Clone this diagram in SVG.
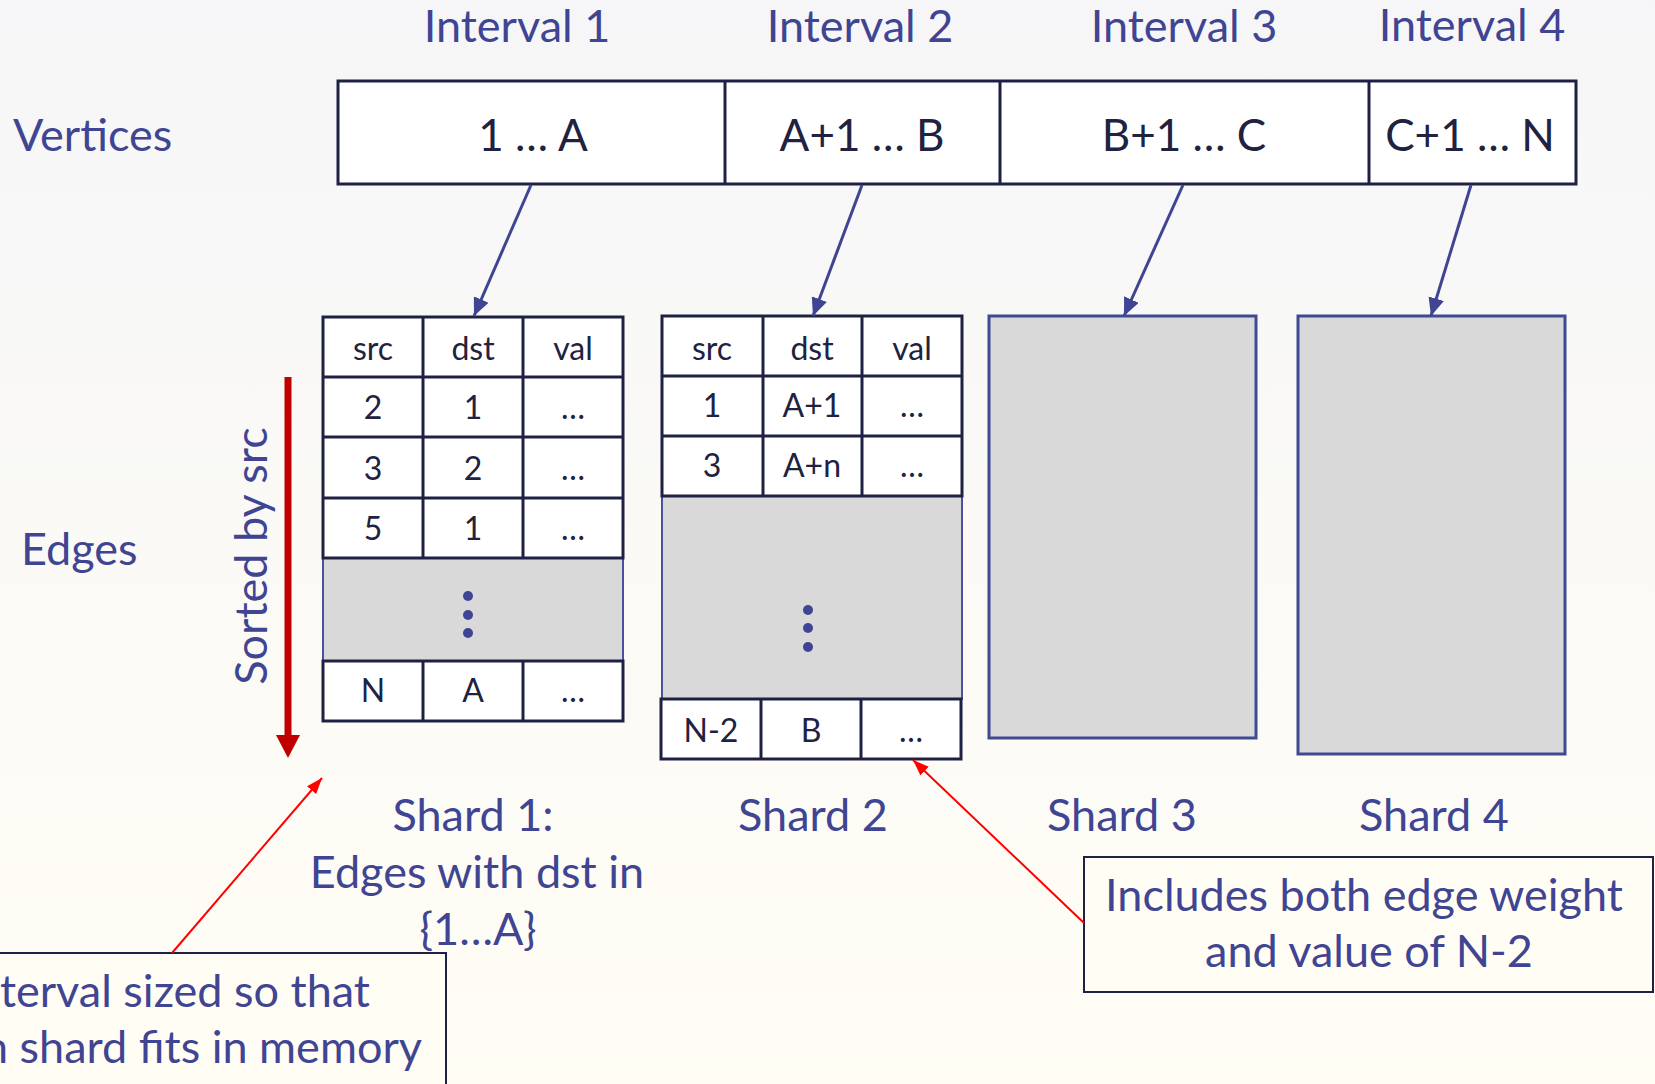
<svg xmlns="http://www.w3.org/2000/svg" width="1655" height="1084" viewBox="0 0 1655 1084">
  <defs>
    <linearGradient id="bg" x1="0" y1="0" x2="0" y2="1">
      <stop offset="0" stop-color="#F6F6F8"/>
      <stop offset="1" stop-color="#FFFDF4"/>
    </linearGradient>
    <marker id="blueHead" markerUnits="userSpaceOnUse" markerWidth="20" markerHeight="18" refX="18" refY="8" orient="auto">
      <path d="M0,0 L18,8 L0,16 Z" fill="#3F4592"/>
    </marker>
    <marker id="redHead" markerUnits="userSpaceOnUse" markerWidth="18" markerHeight="14" refX="16" refY="6" orient="auto">
      <path d="M0,0 L16,6 L0,12 Z" fill="#FF0000"/>
    </marker>
    <style>
      .lbl { font-family: Lato, "Liberation Sans", sans-serif; font-size: 45px; fill: #3F4592; }
      .mid { text-anchor: middle; }
      .vtx { font-family: Lato, "Liberation Sans", sans-serif; font-size: 44px; fill: #20223F; text-anchor: middle; }
      .cell { font-family: Lato, "Liberation Sans", sans-serif; font-size: 32px; fill: #20223F; text-anchor: middle; }
      .grid { fill: #FFFFFF; stroke: #1F2142; stroke-width: 3; }
      .line { stroke: #1F2142; stroke-width: 3; }
      .gap { fill: #D9D9D9; stroke: #4A52A0; stroke-width: 2; }
      .shard { fill: #D9D9D9; stroke: #3F4A94; stroke-width: 3; }
      .dot { fill: #3F4592; }
      .conn { stroke: #3F4592; stroke-width: 3; fill: none; }
      .note { stroke: #FF0000; stroke-width: 2; fill: none; }
      .callout { fill: #FFFDF4; stroke: #1F2142; stroke-width: 2; }
    </style>
  </defs>

  <rect x="0" y="0" width="1655" height="1084" fill="url(#bg)"/>

  <!-- interval headings -->
  <g id="interval-labels">
    <text class="lbl mid" x="517" y="42">Interval 1</text>
    <text class="lbl mid" x="860" y="42">Interval 2</text>
    <text class="lbl mid" x="1184" y="42">Interval 3</text>
    <text class="lbl mid" x="1472" y="41">Interval 4</text>
  </g>

  <g id="row-labels">
    <text class="lbl" x="13" y="151">Vertices</text>
    <text class="lbl" x="21" y="565">Edges</text>
  </g>

  <!-- vertex strip split into intervals -->
  <g id="vertices">
    <rect class="grid" x="338" y="81" width="1238" height="103"/>
    <line class="line" x1="725" y1="81" x2="725" y2="184"/>
    <line class="line" x1="1000" y1="81" x2="1000" y2="184"/>
    <line class="line" x1="1369" y1="81" x2="1369" y2="184"/>
    <text class="vtx" x="533" y="151">1 … A</text>
    <text class="vtx" x="862" y="151">A+1 … B</text>
    <text class="vtx" x="1184" y="151">B+1 … C</text>
    <text class="vtx" x="1470" y="151">C+1 … N</text>
  </g>

  <!-- sort direction -->
  <g id="sorted-by-src">
    <line x1="288" y1="377" x2="288" y2="738" stroke="#C00000" stroke-width="7"/>
    <path d="M276,735 L300,735 L288,758 Z" fill="#C00000"/>
    <text class="lbl mid" transform="translate(267,556) rotate(-90)">Sorted by src</text>
  </g>

  <!-- shard 1 table -->
  <g id="shard1">
    <rect class="gap" x="323" y="558" width="300" height="103"/>
    <rect class="grid" x="323" y="317" width="300" height="241"/>
    <line class="line" x1="423" y1="317" x2="423" y2="558"/>
    <line class="line" x1="523" y1="317" x2="523" y2="558"/>
    <line class="line" x1="323" y1="377" x2="623" y2="377"/>
    <line class="line" x1="323" y1="437" x2="623" y2="437"/>
    <line class="line" x1="323" y1="498" x2="623" y2="498"/>
    <rect class="grid" x="323" y="661" width="300" height="60"/>
    <line class="line" x1="423" y1="661" x2="423" y2="721"/>
    <line class="line" x1="523" y1="661" x2="523" y2="721"/>
    <text class="cell" x="373" y="360">src</text>
    <text class="cell" x="473" y="360">dst</text>
    <text class="cell" x="573" y="360">val</text>
    <text class="cell" x="373" y="419">2</text>
    <text class="cell" x="473" y="419">1</text>
    <text class="cell" x="573" y="419">…</text>
    <text class="cell" x="373" y="480">3</text>
    <text class="cell" x="473" y="480">2</text>
    <text class="cell" x="573" y="480">…</text>
    <text class="cell" x="373" y="540">5</text>
    <text class="cell" x="473" y="540">1</text>
    <text class="cell" x="573" y="540">…</text>
    <circle class="dot" cx="468" cy="596" r="5"/>
    <circle class="dot" cx="468" cy="615" r="5"/>
    <circle class="dot" cx="468" cy="633" r="5"/>
    <text class="cell" x="373" y="702">N</text>
    <text class="cell" x="473" y="702">A</text>
    <text class="cell" x="573" y="702">…</text>
  </g>

  <!-- shard 2 table -->
  <g id="shard2">
    <rect class="gap" x="662" y="496" width="300" height="203" stroke-width="3"/>
    <rect class="grid" x="662" y="316" width="300" height="180"/>
    <line class="line" x1="763" y1="316" x2="763" y2="496"/>
    <line class="line" x1="862" y1="316" x2="862" y2="496"/>
    <line class="line" x1="662" y1="376" x2="962" y2="376"/>
    <line class="line" x1="662" y1="436" x2="962" y2="436"/>
    <rect class="grid" x="661" y="699" width="300" height="60"/>
    <line class="line" x1="761" y1="699" x2="761" y2="759"/>
    <line class="line" x1="861" y1="699" x2="861" y2="759"/>
    <text class="cell" x="712" y="360">src</text>
    <text class="cell" x="812" y="360">dst</text>
    <text class="cell" x="912" y="360">val</text>
    <text class="cell" x="712" y="417">1</text>
    <text class="cell" x="812" y="417">A+1</text>
    <text class="cell" x="912" y="417">…</text>
    <text class="cell" x="712" y="477">3</text>
    <text class="cell" x="812" y="477">A+n</text>
    <text class="cell" x="912" y="477">…</text>
    <circle class="dot" cx="808" cy="610" r="5"/>
    <circle class="dot" cx="808" cy="628" r="5"/>
    <circle class="dot" cx="808" cy="647" r="5"/>
    <text class="cell" x="711" y="742">N-2</text>
    <text class="cell" x="811" y="742">B</text>
    <text class="cell" x="911" y="742">…</text>
  </g>

  <g id="shard3">
    <rect class="shard" x="989" y="316" width="267" height="422"/>
  </g>

  <g id="shard4">
    <rect class="shard" x="1298" y="316" width="267" height="438"/>
  </g>

  <g id="shard-labels">
    <text class="lbl mid" x="473" y="831">Shard 1:</text>
    <text class="lbl mid" x="477" y="888">Edges with dst in</text>
    <text class="lbl mid" x="478" y="945">{1…A}</text>
    <text class="lbl mid" x="813" y="831">Shard 2</text>
    <text class="lbl mid" x="1122" y="831">Shard 3</text>
    <text class="lbl mid" x="1434" y="831">Shard 4</text>
  </g>

  <!-- callout boxes; the left one runs past the page edge -->
  <g id="note-interval">
    <rect class="callout" x="-10" y="953" width="456" height="150"/>
    <text class="lbl" x="370" y="1007" text-anchor="end">nterval sized so that</text>
    <text class="lbl" x="422" y="1063" text-anchor="end">n shard fits in memory</text>
  </g>

  <g id="note-weight">
    <rect class="callout" x="1084" y="857" width="569" height="135"/>
    <text class="lbl mid" x="1364" y="911">Includes both edge weight</text>
    <text class="lbl mid" x="1369" y="967">and value of N-2</text>
  </g>

  <!-- connectors -->
  <g id="connectors">
    <line class="conn" x1="531" y1="185" x2="474" y2="316" marker-end="url(#blueHead)"/>
    <line class="conn" x1="862" y1="185" x2="813" y2="316" marker-end="url(#blueHead)"/>
    <line class="conn" x1="1183" y1="185" x2="1124" y2="316" marker-end="url(#blueHead)"/>
    <line class="conn" x1="1471" y1="185" x2="1431" y2="316" marker-end="url(#blueHead)"/>
    <line class="note" x1="172" y1="953" x2="322" y2="778" marker-end="url(#redHead)"/>
    <line class="note" x1="1084" y1="923" x2="913" y2="760" marker-end="url(#redHead)"/>
  </g>
</svg>
